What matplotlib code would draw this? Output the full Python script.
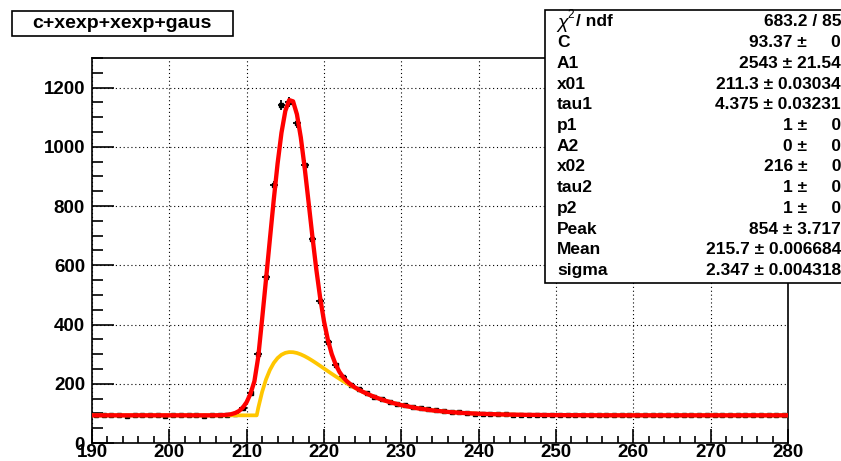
import numpy as np
import matplotlib
matplotlib.use("Agg")
import matplotlib.pyplot as plt
from matplotlib.patches import Rectangle
from matplotlib.ticker import MultipleLocator

plt.rcParams['font.family'] = ['Liberation Sans', 'DejaVu Sans']
plt.rcParams['font.weight'] = 'bold'

# histogram: 1-unit bins from 190 to 280
bin_centers = np.arange(190.5, 280.0, 1.0)
counts = [96, 95, 94, 93, 92, 95, 96, 95, 93, 92, 93, 93, 94, 93, 92, 93, 93,
          95, 99, 117, 170, 300, 560, 870, 1140, 1150, 1080, 940, 690, 480, 340,
          262, 222, 196, 181, 168, 157, 148, 140, 133, 127, 122, 118, 114, 111,
          108, 105, 103, 101, 99, 98, 98, 97, 97, 96, 96, 95, 95, 95, 94,
          94, 94, 94, 93, 94, 93, 93, 94, 94, 93, 95, 95, 95, 95, 95,
          95, 95, 95, 95, 94, 94, 95, 93, 96, 93, 95, 93, 94, 96, 96]

# total fit (red)
fit_x = [190, 200, 205, 206, 207, 207.5, 208, 208.5, 209, 209.5, 210, 210.5,
         211, 211.5, 212, 212.5, 213, 213.5, 214, 214.5, 215, 215.5, 216, 216.5,
         217, 217.5, 218, 218.5, 219, 219.5, 220, 220.5, 221, 221.5, 222, 222.5,
         223, 223.5, 224, 225, 226, 227, 228, 229, 230, 232, 234, 236, 238, 240,
         243, 246, 250, 255, 260, 270, 280]
fit_y = [93.4, 93.4, 93.4, 93.5, 94.3, 95.3, 97.3, 101.1, 107.9, 119.5, 138.1,
         166.8, 208.3, 291.1, 419.1, 551.7, 687.2, 820.6, 943.9, 1047.4, 1121.3,
         1157.9, 1153.7, 1109.7, 1031.8, 929.5, 814.3, 697.1, 587.2, 490.8, 411.0,
         348.1, 300.4, 265.4, 239.9, 221.2, 207.4, 196.5, 187.6, 173.1, 161.2,
         151.0, 142.2, 134.5, 128.0, 117.6, 110.2, 105.0, 101.3, 98.8, 96.4, 95.0,
         94.1, 93.6, 93.4, 93.4, 93.4]

# xexp component (yellow)
comp_x = [190, 211.3, 211.5, 212, 212.5, 213, 213.5, 214, 214.5, 215, 215.5,
          216, 216.5, 217, 217.5, 218, 218.5, 219, 219.5, 220, 220.5, 221, 221.5,
          222, 222.5, 223, 223.5, 224, 225, 226, 227, 228, 229, 230, 232, 234,
          236, 238, 240, 243, 246, 250, 255, 260, 270, 280]
comp_y = [93.4, 93.4, 118.8, 172.6, 214.6, 246.5, 270.2, 286.9, 298.0, 304.4,
          307.0, 306.6, 303.9, 299.2, 293.1, 285.9, 277.9, 269.4, 260.6, 251.6,
          242.6, 233.7, 225.1, 216.6, 208.4, 200.6, 193.1, 186.0, 172.8, 161.2,
          151.0, 142.2, 134.5, 128.0, 117.6, 110.2, 105.0, 101.3, 98.8, 96.4,
          95.0, 94.1, 93.6, 93.4, 93.4, 93.4]

title = "c+xexp+xexp+gaus"
stat_names = ["/ ndf", "C", "A1", "x01", "tau1", "p1", "A2", "x02",
              "tau2", "p2", "Peak", "Mean", "sigma"]
stat_values = ["683.2 / 85", "93.37", "2543", "211.3", "4.375", "1", "0", "216",
               "1", "1", "854", "215.7", "2.347"]
stat_errors = [None, "0", "21.54", "0.03034", "0.03231", "0", "0", "0", "0", "0",
               "3.717", "0.006684", "0.004318"]

W, H = 841, 461
fig = plt.figure(figsize=(W / 100, H / 100), dpi=100)
ax = fig.add_axes([92 / W, 1 - 443 / H, (788 - 92) / W, (443 - 58) / H])

ax.errorbar(bin_centers, counts, xerr=0.5, yerr=np.sqrt(counts) * 0.5, fmt='s',
            ms=2.5, color='black', ecolor='black', elinewidth=1.3, capsize=0,
            zorder=2)
ax.plot(comp_x, comp_y, color='#ffc600', lw=2.7, zorder=3)
ax.plot(fit_x, fit_y, color='#ff0000', lw=3.1, zorder=4)

ax.set_xlim(190, 280)
ax.set_ylim(0, 1300)
ax.xaxis.set_major_locator(MultipleLocator(10))
ax.xaxis.set_minor_locator(MultipleLocator(2))
ax.yaxis.set_major_locator(MultipleLocator(200))
ax.yaxis.set_minor_locator(MultipleLocator(50))
ax.grid(True, which='major', color='black', linestyle=(0, (1, 2.5)), lw=0.8)
ax.tick_params(which='both', direction='in', top=False, right=False,
               labelsize=13.5, width=1.2)
ax.tick_params(axis='y', which='major', length=16, pad=5)
ax.tick_params(axis='y', which='minor', length=8)
ax.tick_params(axis='x', which='major', length=10, pad=1)
ax.tick_params(axis='x', which='minor', length=5)
for lab in ax.get_xticklabels() + ax.get_yticklabels():
    lab.set_fontweight('bold')
for s in ax.spines.values():
    s.set_linewidth(1.2)

# title box
fig.add_artist(Rectangle((12 / W, 1 - 36 / H), (233 - 12) / W, 25 / H,
                         transform=fig.transFigure, facecolor='white',
                         edgecolor='black', lw=1.2))
fig.text(122 / W, 1 - 23.5 / H, title, ha='center', va='center',
         fontsize=14, fontweight='bold', zorder=5)

# stats box
fig.add_artist(Rectangle((545 / W, 1 - 283 / H), 0.5, (283 - 10) / H,
                         transform=fig.transFigure, facecolor='white',
                         edgecolor='black', lw=1.2, zorder=4))
fig.text(557 / W, 1 - 24 / H, "\u03c7", ha='left', va='center',
         fontsize=14, fontweight='normal', style='italic', zorder=5)
fig.text(567 / W, 1 - 15 / H, "2", ha='left', va='center',
         fontsize=8.5, fontweight='normal', zorder=5)
for i, (n, v, e) in enumerate(zip(stat_names, stat_values, stat_errors)):
    y = 1 - (22 + i * 20.7) / H
    x0 = 576 if i == 0 else 557
    fig.text(x0 / W, y, n, ha='left', va='center', fontsize=12.5,
             fontweight='bold', zorder=5)
    if e is None:
        txt = v
    elif e == "0":
        txt = v + " \u00b1     0"
    else:
        txt = v + " \u00b1 " + e
    fig.text(841 / W, y, txt, ha='right', va='center', fontsize=12.5,
             fontweight='bold', zorder=5)

fig.savefig("out.png", dpi=100)
